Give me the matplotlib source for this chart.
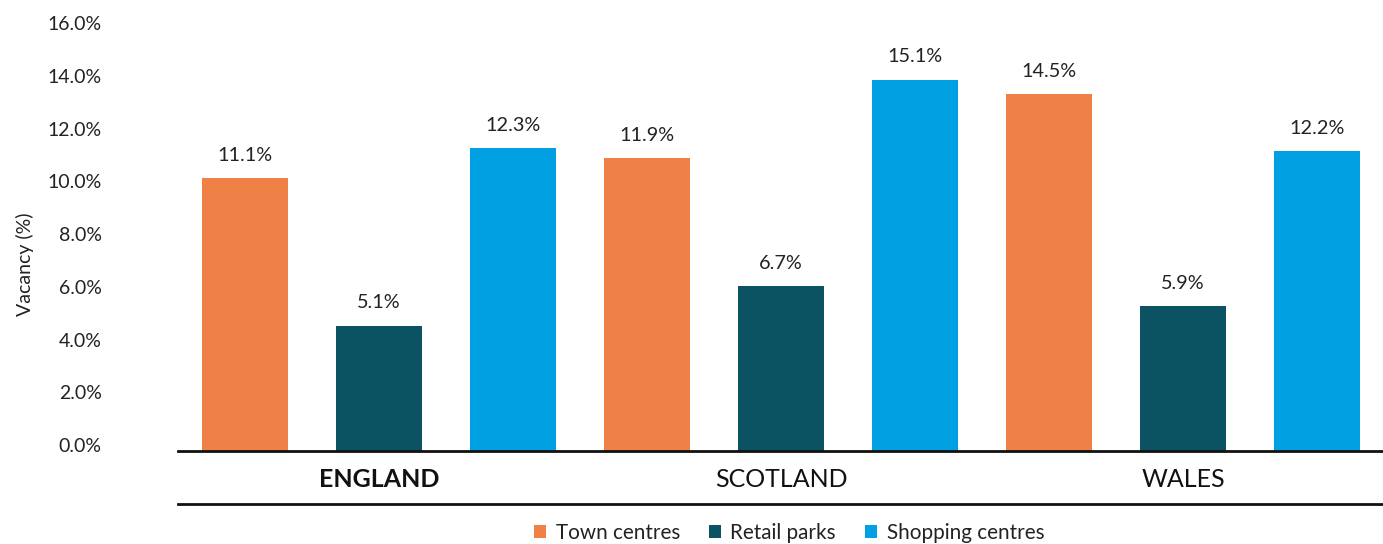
import matplotlib.pyplot as plt
import matplotlib.transforms as mtransforms

plt.rcParams['font.family'] = ['Lato', 'DejaVu Sans']

regions = ['ENGLAND', 'SCOTLAND', 'WALES']
series = ['Town centres', 'Retail parks', 'Shopping centres']
town_centres = [11.1, 11.9, 14.5]
retail_parks = [5.1, 6.7, 5.9]
shopping_centres = [12.3, 15.1, 12.2]
tick_values = [0, 2, 4, 6, 8, 10, 12, 14, 16]

colors = ['#F08146', '#0B5263', '#00A0E3']
values = [town_centres, retail_parks, shopping_centres]

W, H = 1383, 544
fig = plt.figure(figsize=(W / 100, H / 100), dpi=100)

# axes rectangle in pixels
left, right, bottom, top = 178, 1384, 451, 22
rect = [left / W, 1 - bottom / H, (right - left) / W, (bottom - top) / H]

# axis that only carries the y tick labels
ax_t = fig.add_axes(rect)
ax_t.set_facecolor('none')
ax_t.set_ylim(-0.2275, 16.038)
ax_t.set_yticks(tick_values)
ax_t.set_yticklabels([f'{v:.1f}%' for v in tick_values], fontsize=14, color='#222222')
ax_t.tick_params(axis='y', length=0, pad=55)
ax_t.set_xticks([])
for s in ax_t.spines.values():
    s.set_visible(False)

# bar axis
ax = fig.add_axes(rect)
ax.set_facecolor('none')
ax.set_xlim(-0.5, 8.5)
ax.set_ylim(0, 17.44)
ax.set_yticks([])
ax.set_xticks([])
for s in ['top', 'left', 'right']:
    ax.spines[s].set_visible(False)
ax.spines['bottom'].set_linewidth(2)
ax.spines['bottom'].set_color('#111111')

handles = []
for j, (name, vals, c) in enumerate(zip(series, values, colors)):
    xs = [g * 3 + j for g in range(len(regions))]
    b = ax.bar(xs, vals, width=0.64, color=c, label=name)
    handles.append(b)
    for x, v in zip(xs, vals):
        ax.annotate(f'{v}%', (x, v), xytext=(0, 12.5), textcoords='offset points',
                    ha='center', va='baseline', fontsize=14.3, color='#222222')

# group labels and lower rule
trans = mtransforms.blended_transform_factory(ax.transData, ax.transAxes)
for g, r in enumerate(regions):
    ax.text(g * 3 + 1, -0.066, r, transform=trans, ha='center', va='center',
            fontsize=18, color='#111111', fontweight='bold' if g == 0 else 'normal')
ax.plot([0, 1], [-0.1235, -0.1235], transform=ax.transAxes, color='#111111',
        linewidth=2, clip_on=False)

fig.text(25 / W, 1 - 264 / H, 'Vacancy (%)', rotation=90, ha='center', va='center',
         fontsize=14, color='#222222')

fig.legend(handles=handles, labels=series, loc='center', bbox_to_anchor=(789 / W, 1 - 533 / H),
           ncol=3, frameon=False, fontsize=14.9, handlelength=0.6, handleheight=0.6,
           handletextpad=0.45, columnspacing=1.4, labelcolor='#222222')

fig.savefig('out.png', dpi=100)
